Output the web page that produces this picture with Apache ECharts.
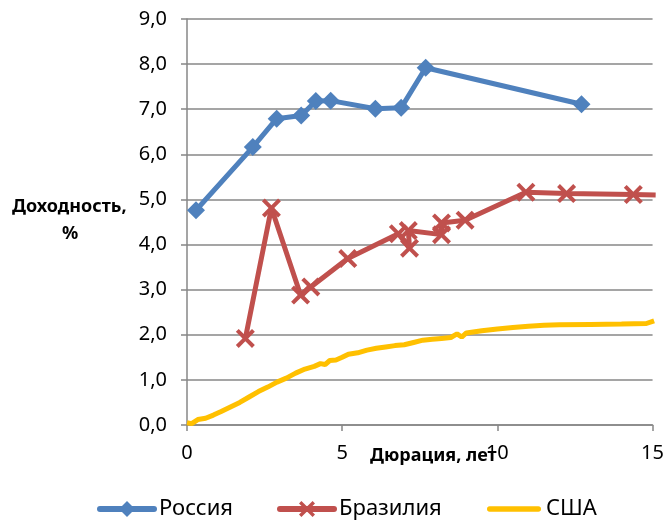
<!DOCTYPE html>
<html>
<head>
<meta charset="utf-8">
<script src="https://cdn.jsdelivr.net/npm/echarts@6/dist/echarts.min.js"></script>
<style>
  html, body { margin: 0; padding: 0; background: #fff; }
  #chart { width: 667px; height: 522px; }
</style>
</head>
<body>
<div id="chart"></div>
<script>
// Yield vs. duration, [duration in years, yield in %]
const russia = [
  [0.29, 4.76], [2.12, 6.16], [2.89, 6.79], [3.68, 6.86], [4.15, 7.18],
  [4.63, 7.19], [6.07, 7.01], [6.90, 7.03], [7.69, 7.92], [12.71, 7.11]
];
const brazil = [
  [1.88, 1.92], [2.72, 4.81], [3.66, 2.88], [3.99, 3.06], [5.18, 3.69],
  [6.81, 4.24], [7.17, 3.92], [7.13, 4.31], [8.20, 4.22], [8.20, 4.48],
  [8.96, 4.54], [10.92, 5.16], [12.23, 5.13], [14.38, 5.11], [15.1, 5.10]
];
const usa = [
  [0.0, 0.05], [0.15, 0.03], [0.35, 0.12], [0.6, 0.15], [0.85, 0.22],
  [1.1, 0.30], [1.4, 0.40], [1.7, 0.50], [2.0, 0.62], [2.3, 0.74],
  [2.6, 0.84], [2.9, 0.95], [3.2, 1.04], [3.5, 1.15], [3.8, 1.24],
  [4.1, 1.30], [4.3, 1.36], [4.45, 1.34], [4.6, 1.43], [4.8, 1.44],
  [5.0, 1.50], [5.2, 1.57], [5.5, 1.60], [5.8, 1.66], [6.1, 1.70],
  [6.4, 1.73], [6.7, 1.76], [7.0, 1.78], [7.3, 1.83], [7.6, 1.88],
  [7.9, 1.90], [8.2, 1.92], [8.5, 1.94], [8.7, 2.02], [8.85, 1.95],
  [9.0, 2.04], [9.5, 2.09], [10.0, 2.13], [10.5, 2.16], [11.0, 2.19],
  [11.5, 2.21], [12.0, 2.22], [13.0, 2.23], [14.0, 2.24], [14.8, 2.25],
  [15.05, 2.31]
];
const seriesNames = ['Россия', 'Бразилия', 'США'];
const xName = 'Дюрация, лет';
const yNameLines = ['Доходность,', '%'];

const FONT = 'Noto Sans';
const GRID_COLOR = '#878787';
const crossPath = 'path://M3,0 L10,7 L17,0 L20,3 L13,10 L20,17 L17,20 L10,13 L3,20 L0,17 L7,10 L0,3 Z';
const barIcon = 'path://M3,0 H57 A3,3 0 0 1 57,6 H3 A3,3 0 0 1 3,0 Z';

const chart = echarts.init(document.getElementById('chart'), null, { renderer: 'canvas' });

// the last Brazil point only carries the line to the edge, no marker
const brazilData = brazil.map((p, i) =>
  i === brazil.length - 1 ? { value: p, symbol: 'none' } : p);

const legendBase = {
  top: 493,
  itemWidth: 54,
  itemHeight: 20,
  itemGap: 0,
  lineStyle: { width: 6, cap: 'round' },
  textStyle: { fontFamily: FONT, fontSize: 22, color: '#000' }
};

chart.setOption({
  animation: false,
  grid: { left: 187, right: 11, top: 19, bottom: 97 },
  legend: [
    Object.assign({ left: 92, data: [seriesNames[0]] }, legendBase),
    Object.assign({ left: 272, data: [seriesNames[1]] }, legendBase),
    Object.assign({ left: 482, data: [{ name: seriesNames[2], icon: barIcon }] }, legendBase)
  ],
  xAxis: {
    type: 'value',
    min: 0, max: 15, interval: 5,
    axisLine: { lineStyle: { color: GRID_COLOR, width: 1.5 } },
    axisTick: { show: true, length: 6, lineStyle: { color: GRID_COLOR, width: 1.5 } },
    axisLabel: { margin: 18, color: '#000', fontFamily: FONT, fontSize: 20 },
    splitLine: { show: false }
  },
  yAxis: {
    type: 'value',
    min: 0, max: 9, interval: 1,
    axisLine: { show: true, lineStyle: { color: GRID_COLOR, width: 1.5 } },
    axisTick: { show: true, length: 6, lineStyle: { color: GRID_COLOR, width: 1.5 } },
    axisLabel: {
      margin: 20, color: '#000', fontFamily: FONT, fontSize: 20,
      formatter: v => v.toFixed(1).replace('.', ',')
    },
    splitLine: { show: true, lineStyle: { color: GRID_COLOR, width: 1.5 } }
  },
  graphic: [
    {
      type: 'text', left: 370, top: 447,
      style: { text: xName, fontFamily: FONT, fontSize: 18, fontWeight: 'bold', fill: '#000' }
    },
    {
      type: 'text', left: 12, top: 198,
      style: { text: yNameLines[0], fontFamily: FONT, fontSize: 18, fontWeight: 'bold', fill: '#000' }
    },
    {
      type: 'text', left: 62, top: 225,
      style: { text: yNameLines[1], fontFamily: FONT, fontSize: 18, fontWeight: 'bold', fill: '#000' }
    }
  ],
  series: [
    {
      name: seriesNames[2], type: 'line', data: usa, clip: false, z: 2,
      showSymbol: false, symbol: 'none',
      lineStyle: { color: '#FFC000', width: 5 },
      itemStyle: { color: '#FFC000' }
    },
    {
      name: seriesNames[1], type: 'line', data: brazilData, clip: false, z: 3,
      symbol: crossPath, symbolSize: 19,
      lineStyle: { color: '#C0504D', width: 5 },
      itemStyle: { color: '#C0504D' }
    },
    {
      name: seriesNames[0], type: 'line', data: russia, clip: false, z: 4,
      symbol: 'diamond', symbolSize: 18,
      lineStyle: { color: '#4F81BD', width: 5 },
      itemStyle: { color: '#4F81BD' }
    }
  ]
});
</script>
</body>
</html>
